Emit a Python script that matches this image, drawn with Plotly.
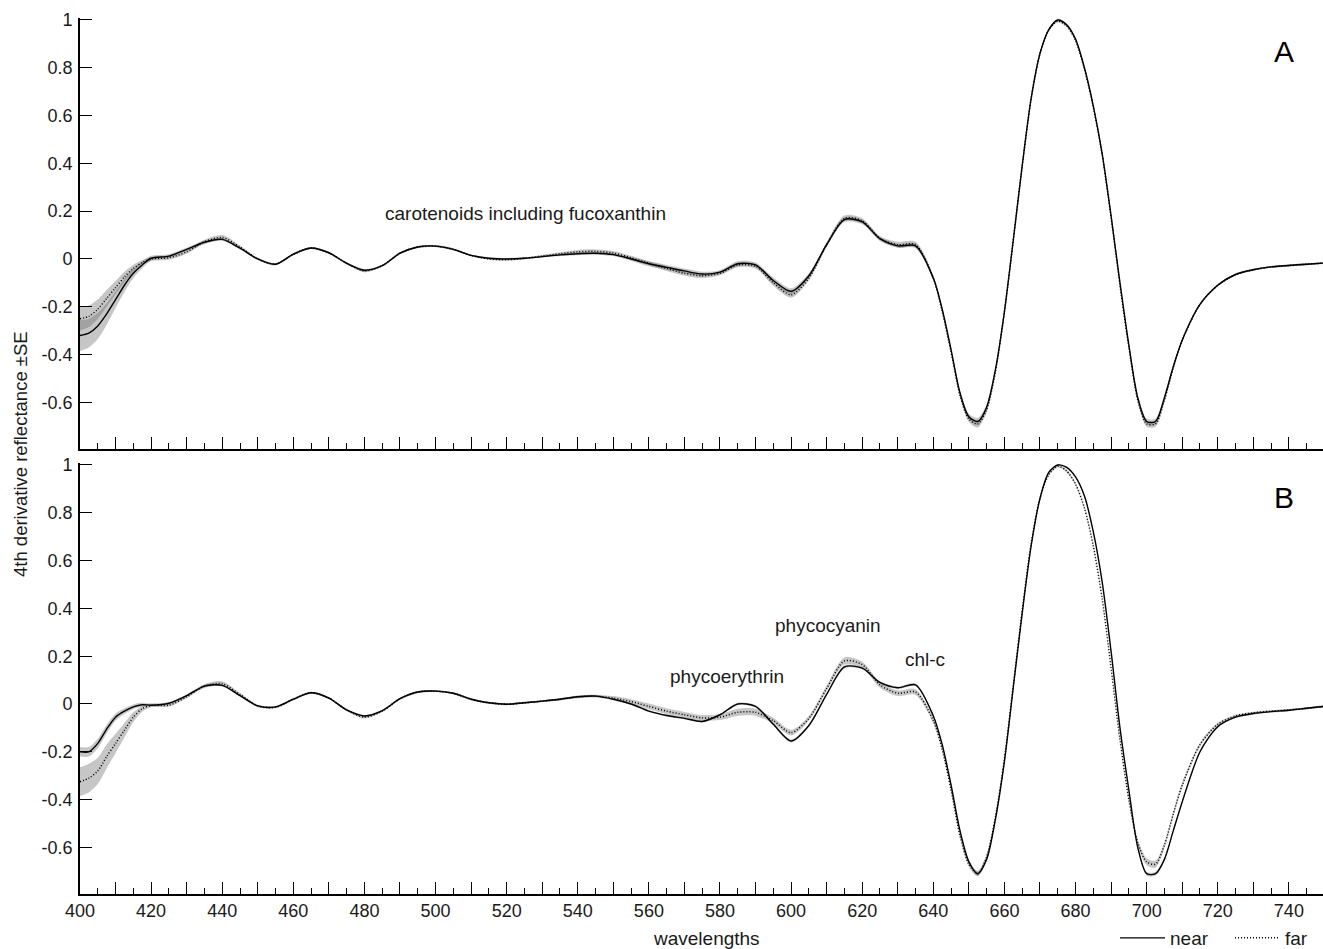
import plotly.graph_objects as go

# ---------------- data ----------------
wavelengths = [
    400, 402.5, 405, 407.5, 410, 412.5, 415, 417.5, 420,
    425, 430, 435, 440, 445, 450, 455, 460, 465, 470,
    475, 480, 485, 490, 495, 500, 505, 510, 515, 520,
    525, 530, 535, 540, 545, 550, 555, 560, 565, 570,
    575, 580, 585, 590, 595, 600, 605, 610, 615, 620,
    625, 630, 635, 640,
    642.5, 645, 647.5, 650, 652.5, 655, 657.5, 660, 662.5, 665,
    667.5, 670, 672.5, 675, 677.5, 680, 682.5, 685, 687.5, 690,
    692.5, 695, 697.5, 700, 702.5, 705, 707.5, 710,
    715, 720, 725, 730, 735, 740, 745, 750,
]

a_near = [
    -0.32, -0.31, -0.28, -0.23, -0.17, -0.11, -0.06, -0.025, 0.003,
    0.012, 0.04, 0.07, 0.082, 0.045, 0.0, -0.022, 0.02, 0.046, 0.026,
    -0.018, -0.047, -0.028, 0.024, 0.05, 0.054, 0.04, 0.015, 0.003, 0.0,
    0.003, 0.01, 0.017, 0.022, 0.024, 0.018, 0.0, -0.02, -0.035, -0.05,
    -0.063, -0.055, -0.02, -0.025, -0.09, -0.135, -0.07, 0.06, 0.165, 0.155,
    0.085, 0.055, 0.055, -0.08,
    -0.21, -0.38, -0.56, -0.66, -0.68, -0.62, -0.46, -0.22, 0.08, 0.39,
    0.67, 0.86, 0.96, 1.0, 0.98, 0.92, 0.80, 0.64, 0.44, 0.18,
    -0.1, -0.36, -0.58, -0.68, -0.68, -0.58, -0.45, -0.34,
    -0.19, -0.11, -0.065, -0.045, -0.033, -0.027, -0.022, -0.017,
]
a_far = [
    -0.25, -0.24, -0.21, -0.165, -0.12, -0.075, -0.04, -0.015, 0.0,
    0.005, 0.03, 0.072, 0.09, 0.05, 0.0, -0.022, 0.02, 0.046, 0.026,
    -0.018, -0.05, -0.028, 0.024, 0.05, 0.054, 0.04, 0.015, 0.0, -0.003,
    0.003, 0.012, 0.022, 0.03, 0.032, 0.025, 0.005, -0.018, -0.04, -0.06,
    -0.07, -0.06, -0.025, -0.03, -0.1, -0.15, -0.08, 0.06, 0.17, 0.16,
    0.085, 0.06, 0.06, -0.08,
    -0.22, -0.39, -0.57, -0.67, -0.69, -0.63, -0.47, -0.22, 0.08, 0.39,
    0.67, 0.86, 0.96, 0.995, 0.975, 0.915, 0.795, 0.635, 0.435, 0.175,
    -0.11, -0.37, -0.59, -0.69, -0.69, -0.59, -0.455, -0.34,
    -0.19, -0.11, -0.065, -0.045, -0.033, -0.027, -0.022, -0.017,
]
a_near_se = [
    0.065, 0.06, 0.055, 0.045, 0.035, 0.028, 0.02, 0.014, 0.01,
    0.008, 0.007, 0.007, 0.006, 0.005, 0.004, 0.004, 0.004, 0.004, 0.004,
    0.004, 0.005, 0.004, 0.004, 0.004, 0.004, 0.004, 0.004, 0.004, 0.004,
    0.004, 0.004, 0.005, 0.006, 0.006, 0.006, 0.008, 0.01, 0.01, 0.01,
    0.01, 0.008, 0.01, 0.01, 0.012, 0.012, 0.01, 0.008, 0.01, 0.01,
    0.008, 0.008, 0.01, 0.008,
    0.008, 0.008, 0.01, 0.012, 0.015, 0.012, 0.008, 0.006, 0.005, 0.005,
    0.005, 0.005, 0.005, 0.005, 0.005, 0.005, 0.005, 0.005, 0.005, 0.005,
    0.006, 0.008, 0.01, 0.012, 0.012, 0.01, 0.008, 0.006,
    0.005, 0.004, 0.004, 0.004, 0.004, 0.004, 0.004, 0.004,
]
a_far_se = [
    0.05, 0.045, 0.04, 0.035, 0.028, 0.022, 0.016, 0.01, 0.008,
    0.008, 0.008, 0.008, 0.01, 0.006, 0.004, 0.004, 0.004, 0.004, 0.004,
    0.004, 0.006, 0.004, 0.004, 0.004, 0.004, 0.004, 0.004, 0.004, 0.004,
    0.004, 0.005, 0.006, 0.008, 0.008, 0.008, 0.008, 0.008, 0.01, 0.01,
    0.01, 0.008, 0.01, 0.01, 0.012, 0.012, 0.01, 0.01, 0.012, 0.01,
    0.01, 0.012, 0.012, 0.01,
    0.008, 0.008, 0.01, 0.012, 0.015, 0.012, 0.008, 0.006, 0.005, 0.005,
    0.005, 0.005, 0.005, 0.005, 0.005, 0.005, 0.005, 0.005, 0.005, 0.005,
    0.006, 0.008, 0.01, 0.012, 0.012, 0.01, 0.008, 0.006,
    0.005, 0.004, 0.004, 0.004, 0.004, 0.004, 0.004, 0.004,
]

b_near = [
    -0.20, -0.20, -0.165, -0.105, -0.055, -0.03, -0.012, -0.003, -0.005,
    0.003, 0.035, 0.075, 0.078, 0.035, -0.008, -0.012, 0.02, 0.047, 0.025,
    -0.025, -0.05, -0.028, 0.022, 0.05, 0.054, 0.045, 0.02, 0.005, -0.001,
    0.005, 0.012, 0.02, 0.03, 0.033, 0.02, 0.0, -0.03, -0.048, -0.06,
    -0.073, -0.045, 0.0, -0.01, -0.085, -0.155, -0.09, 0.04, 0.155, 0.15,
    0.09, 0.068, 0.08, -0.05,
    -0.17, -0.34, -0.53, -0.66, -0.71, -0.65, -0.48, -0.24, 0.07, 0.38,
    0.66, 0.86, 0.97, 1.0, 0.99, 0.95, 0.87, 0.72, 0.51, 0.22,
    -0.1, -0.36, -0.6, -0.71, -0.71, -0.65, -0.53, -0.41,
    -0.2, -0.095, -0.055, -0.04, -0.032, -0.026, -0.018, -0.01,
]
b_far = [
    -0.325, -0.31, -0.28, -0.22, -0.165, -0.11, -0.055, -0.02, -0.006,
    -0.005, 0.03, 0.075, 0.085, 0.04, -0.008, -0.014, 0.02, 0.047, 0.025,
    -0.025, -0.055, -0.03, 0.022, 0.05, 0.054, 0.045, 0.02, 0.005, -0.001,
    0.005, 0.012, 0.02, 0.03, 0.033, 0.025, 0.01, -0.01, -0.03, -0.045,
    -0.058, -0.055, -0.035, -0.035, -0.07, -0.12, -0.06, 0.065, 0.18, 0.165,
    0.08, 0.045, 0.05, -0.07,
    -0.19, -0.36, -0.55, -0.67, -0.71, -0.64, -0.47, -0.23, 0.08, 0.39,
    0.67, 0.86, 0.96, 0.995, 0.975, 0.92, 0.82, 0.66, 0.44, 0.15,
    -0.15, -0.4, -0.58, -0.66, -0.67, -0.59, -0.46, -0.34,
    -0.17, -0.085, -0.05, -0.037, -0.03, -0.025, -0.018, -0.01,
]
b_near_se = [
    0.02, 0.02, 0.02, 0.018, 0.015, 0.012, 0.01, 0.008, 0.006,
    0.005, 0.005, 0.005, 0.005, 0.004, 0.004, 0.004, 0.004, 0.004, 0.004,
    0.004, 0.004, 0.004, 0.004, 0.004, 0.004, 0.004, 0.004, 0.004, 0.004,
    0.004, 0.004, 0.004, 0.004, 0.004, 0.004, 0.004, 0.004, 0.004, 0.004,
    0.004, 0.004, 0.005, 0.005, 0.005, 0.006, 0.005, 0.005, 0.006, 0.005,
    0.005, 0.005, 0.006, 0.005,
    0.005, 0.005, 0.006, 0.008, 0.008, 0.008, 0.006, 0.005, 0.004, 0.004,
    0.004, 0.004, 0.004, 0.004, 0.004, 0.004, 0.004, 0.004, 0.004, 0.004,
    0.005, 0.006, 0.008, 0.008, 0.008, 0.008, 0.006, 0.005,
    0.004, 0.004, 0.004, 0.004, 0.004, 0.004, 0.004, 0.004,
]
b_far_se = [
    0.06, 0.06, 0.055, 0.05, 0.04, 0.03, 0.02, 0.012, 0.008,
    0.006, 0.006, 0.008, 0.01, 0.006, 0.005, 0.004, 0.004, 0.004, 0.004,
    0.004, 0.006, 0.004, 0.004, 0.004, 0.004, 0.004, 0.004, 0.004, 0.004,
    0.004, 0.004, 0.005, 0.006, 0.006, 0.008, 0.01, 0.012, 0.012, 0.012,
    0.012, 0.012, 0.015, 0.015, 0.012, 0.012, 0.01, 0.012, 0.015, 0.012,
    0.012, 0.012, 0.012, 0.01,
    0.008, 0.008, 0.01, 0.012, 0.012, 0.012, 0.008, 0.006, 0.005, 0.005,
    0.005, 0.005, 0.005, 0.005, 0.006, 0.006, 0.006, 0.006, 0.006, 0.006,
    0.008, 0.01, 0.012, 0.015, 0.015, 0.012, 0.01, 0.01,
    0.008, 0.006, 0.005, 0.005, 0.004, 0.004, 0.004, 0.004,
]

x_tick_vals = list(range(400, 750, 10))
x_tick_text = [str(v) if v % 20 == 0 else "" for v in x_tick_vals]
y_tick_vals = [-0.6, -0.4, -0.2, 0, 0.2, 0.4, 0.6, 0.8, 1]
y_tick_text = ["-0.6", "-0.4", "-0.2", "0", "0.2", "0.4", "0.6", "0.8", "1"]

series_names = ["near", "far"]
panel_labels = ["A", "B"]

for arr in (a_near, a_far, a_near_se, a_far_se, b_near, b_far, b_near_se, b_far_se):
    assert len(arr) == len(wavelengths), len(arr)

# ---------------- figure ----------------
FONT = "Arial, Liberation Sans, sans-serif"
TXT = "#1a1a1a"
BAND = "rgba(105,105,105,0.38)"
W, H, L = 1323, 949, 80
PW = W - L

fig = go.Figure()

panels = [
    ("x", "y", a_near, a_near_se, a_far, a_far_se, True),
    ("x2", "y2", b_near, b_near_se, b_far, b_far_se, False),
]

for xa, ya, near, near_se, far, far_se, show_leg in panels:
    for vals, se in ((near, near_se), (far, far_se)):
        lower = [v - s for v, s in zip(vals, se)]
        upper = [v + s for v, s in zip(vals, se)]
        fig.add_trace(go.Scatter(x=wavelengths, y=lower, xaxis=xa, yaxis=ya, mode="lines",
                                 line=dict(width=0, shape="spline", smoothing=0.8),
                                 showlegend=False, hoverinfo="skip"))
        fig.add_trace(go.Scatter(x=wavelengths, y=upper, xaxis=xa, yaxis=ya, mode="lines",
                                 line=dict(width=0, shape="spline", smoothing=0.8),
                                 fill="tonexty", fillcolor=BAND,
                                 showlegend=False, hoverinfo="skip"))
    fig.add_trace(go.Scatter(x=wavelengths, y=near, xaxis=xa, yaxis=ya, mode="lines",
                             name=series_names[0],
                             line=dict(color="black", width=1.4,
                                       shape="spline", smoothing=0.8),
                             showlegend=show_leg, legendrank=1))
    fig.add_trace(go.Scatter(x=wavelengths, y=far, xaxis=xa, yaxis=ya, mode="lines",
                             name=series_names[1],
                             line=dict(color="black", width=1.5, dash="1px,2px",
                                       shape="spline", smoothing=0.8),
                             showlegend=show_leg, legendrank=2))

XR = [400, 749.6]
YR = [-0.795, 1.01]

def xaxis_cfg(labels, anchor):
    return dict(
        range=XR, domain=[0, 1], anchor=anchor, automargin=False,
        tickmode="array", tickvals=x_tick_vals,
        ticktext=x_tick_text if labels else ["" for _ in x_tick_vals],
        ticks="inside", ticklen=12, tickwidth=1.2, tickcolor="black",
        minor=dict(tickmode="linear", tick0=405, dtick=10, ticks="inside",
                   ticklen=6, tickwidth=1.2, tickcolor="black", showgrid=False),
        showline=True, linecolor="black", linewidth=1.6,
        showgrid=False, zeroline=False,
        tickfont=dict(family=FONT, size=18, color=TXT),
    )

def yaxis_cfg(domain, anchor):
    return dict(
        range=YR, domain=domain, anchor=anchor, automargin=False,
        tickmode="array", tickvals=y_tick_vals, ticktext=y_tick_text,
        ticks="inside", ticklen=12, tickwidth=1.2, tickcolor="black",
        showline=True, linecolor="black", linewidth=1.6,
        showgrid=False, zeroline=False, ticklabelstandoff=2,
        tickfont=dict(family=FONT, size=18, color=TXT),
    )

annotations = [
    dict(text="carotenoids including fucoxanthin", x=525.3, y=0.192, xref="x", yref="y"),
    dict(text="phycoerythrin", x=582.1, y=0.117, xref="x2", yref="y2"),
    dict(text="phycocyanin", x=610.4, y=0.33, xref="x2", yref="y2"),
    dict(text="chl-c", x=637.7, y=0.188, xref="x2", yref="y2"),
]
for a in annotations:
    a.update(showarrow=False, font=dict(family=FONT, size=19, color=TXT),
             xanchor="center", yanchor="middle")

annotations.append(dict(text=panel_labels[0], x=738.7, y=0.87, xref="x", yref="y",
                        showarrow=False, font=dict(family=FONT, size=30, color="black")))
annotations.append(dict(text=panel_labels[1], x=738.7, y=0.866, xref="x2", yref="y2",
                        showarrow=False, font=dict(family=FONT, size=30, color="black")))
annotations.append(dict(text="4th derivative reflectance ±SE", x=(20 - L) / PW,
                        y=(H - 454) / H,
                        xref="paper", yref="paper", textangle=-90, showarrow=False,
                        xanchor="center", yanchor="middle",
                        font=dict(family=FONT, size=18.5, color=TXT)))
annotations.append(dict(text="wavelengths", x=(706 - L) / PW, y=(H - 938) / H,
                        xref="paper", yref="paper", showarrow=False,
                        xanchor="center", yanchor="middle",
                        font=dict(family=FONT, size=19, color=TXT)))

fig.update_layout(
    width=W, height=H,
    margin=dict(l=L, r=0, t=0, b=0, autoexpand=False),
    paper_bgcolor="white", plot_bgcolor="white",
    xaxis=xaxis_cfg(False, "y"),
    yaxis=yaxis_cfg([0.5269, 0.98145], "x"),
    xaxis2=xaxis_cfg(True, "y2"),
    yaxis2=yaxis_cfg([0.05796, 0.51254], "x2"),
    annotations=annotations,
    showlegend=True,
    legend=dict(orientation="h", x=(1115 - L) / PW, xanchor="left", y=(H - 938) / H,
                yanchor="middle", font=dict(family=FONT, size=19, color=TXT),
                bgcolor="rgba(0,0,0,0)", traceorder="normal", itemwidth=45,
                entrywidth=55, entrywidthmode="pixels", tracegroupgap=0),
)

fig.write_html("out.html", config={"displayModeBar": False},
               post_script="document.body.style.margin='0px';")
